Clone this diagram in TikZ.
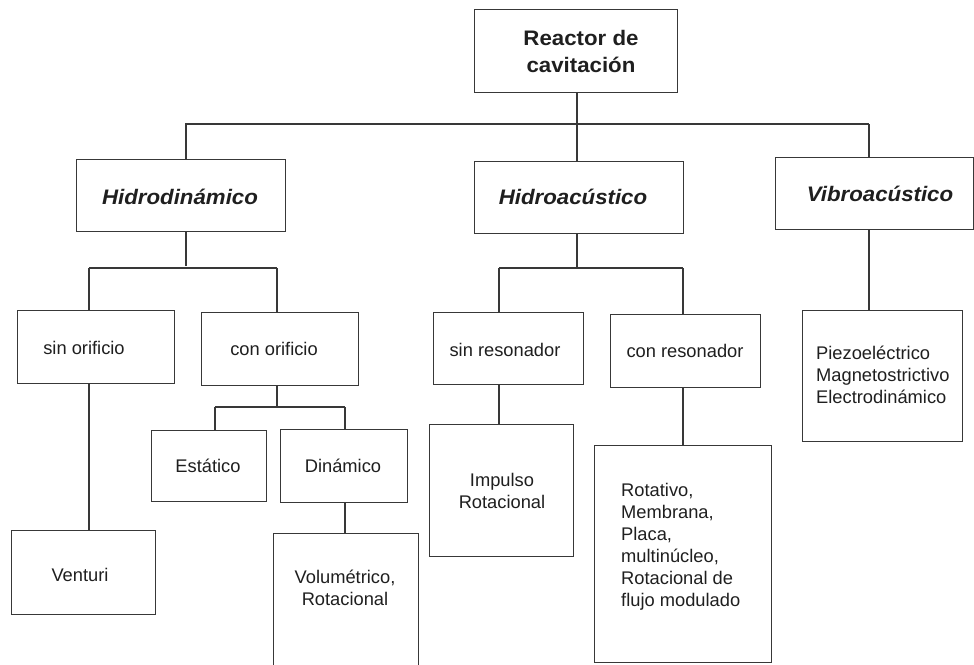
\documentclass[tikz,border=0pt]{standalone}
\usepackage{fontspec}
\setmainfont{Liberation Sans}
\newfontfamily\headfont[FakeStretch=1.06]{Liberation Sans}
\begin{document}
\begin{tikzpicture}[x=1pt,y=-1pt,
  box/.style={draw=black!78, line width=1.1pt, rectangle, inner sep=0pt, anchor=north west},
  link/.style={draw=black!78, line width=1.1pt},
  lbl/.style={text=black!88, font=\fontsize{18.3}{22}\selectfont, inner sep=0pt},
  head/.style={text=black!88, font=\headfont\fontsize{21}{27}\selectfont\bfseries\itshape, inner sep=0pt},
  root/.style={text=black!88, font=\headfont\fontsize{21}{27}\selectfont\bfseries, inner sep=0pt, align=center}]
\clip (0,0) rectangle (974,664);
\fill[white] (0,0) rectangle (974,664);

% boxes: top-left corner plus size
\node[box, minimum width=203pt, minimum height=83pt] (reactor)  at (474,9)   {};
\node[box, minimum width=209pt, minimum height=72pt] (hidrodin) at (76,159)  {};
\node[box, minimum width=209pt, minimum height=72pt] (hidroac)  at (474,161) {};
\node[box, minimum width=198pt, minimum height=72pt] (vibro)    at (775,157) {};
\node[box, minimum width=157pt, minimum height=73pt] (sinorif)  at (17,310)  {};
\node[box, minimum width=157pt, minimum height=73pt] (conorif)  at (201,312) {};
\node[box, minimum width=115pt, minimum height=71pt] (estatico) at (151,430) {};
\node[box, minimum width=127pt, minimum height=73pt] (dinamico) at (280,429) {};
\node[box, minimum width=144pt, minimum height=84pt] (venturi)  at (11,530)  {};
\node[box, minimum width=145pt, minimum height=150pt] (volum)   at (273,533) {};
\node[box, minimum width=150pt, minimum height=72pt] (sinreson) at (433,312) {};
\node[box, minimum width=150pt, minimum height=73pt] (conreson) at (610,314) {};
\node[box, minimum width=144pt, minimum height=132pt] (impulso) at (429,424) {};
\node[box, minimum width=177pt, minimum height=217pt] (rotativo) at (594,445) {};
\node[box, minimum width=160pt, minimum height=131pt] (piezo)   at (802,310) {};

% labels
\node[root] (reactor-t) at (581,51.5) {Reactor de\\cavitación};
\node[head] (hidrodin-t) at (180,197) {Hidrodinámico};
\node[head] (hidroac-t)  at (573,197) {Hidroacústico};
\node[head] (vibro-t)    at (880,194) {Vibroacústico};
\node[lbl] (sinorif-t)  at (84,348)  {sin orificio};
\node[lbl] (conorif-t)  at (274,349) {con orificio};
\node[lbl] (estatico-t) at (208,466) {Estático};
\node[lbl] (dinamico-t) at (343,466) {Dinámico};
\node[lbl] (venturi-t)  at (80,575)  {Venturi};
\node[lbl, align=center] (volum-t) at (345,588) {Volumétrico,\\Rotacional};
\node[lbl] (sinreson-t) at (505,350) {sin resonador};
\node[lbl] (conreson-t) at (685,351) {con resonador};
\node[lbl, align=center] (impulso-t) at (502,491) {Impulso\\Rotacional};
\node[lbl, align=left, anchor=west] (rotativo-t) at (621,547)
  {Rotativo,\\Membrana,\\Placa,\\multinúcleo,\\Rotacional de\\flujo modulado};
\node[lbl, align=left, anchor=west] (piezo-t) at (816,374.5)
  {Piezoeléctrico\\Magnetostrictivo\\Electrodinámico};

% junction points of the bus lines
\coordinate (busA)  at (577,124);
\coordinate (busAl) at (185,124);
\coordinate (busAr) at (869,124);
\coordinate (busB)  at (186,268);
\coordinate (busBl) at (89,268);
\coordinate (busBr) at (277,268);
\coordinate (busC)  at (277,407);
\coordinate (busCl) at (215,407);
\coordinate (busCr) at (345,407);
\coordinate (busD)  at (577,268);
\coordinate (busDl) at (499,268);
\coordinate (busDr) at (683,268);

% first level
\draw[link] (reactor.south -| busA) -- (hidroac.north -| busA);
\draw[link] (busAl) -- (busAr);
\draw[link] (busAl -| busB) -- (hidrodin.north -| busB);
\draw[link] (busAr) -- (vibro.north -| busAr);

% hydrodynamic branch
\draw[link] (hidrodin.south -| busB) -- ([yshift=2pt]busB);
\draw[link] (busBl) -- (busBr);
\draw[link] (busBl) -- (sinorif.north -| busBl);
\draw[link] (busBr) -- (conorif.north -| busBr);
\draw[link] (sinorif.south -| busBl) -- (venturi.north -| busBl);
\draw[link] (conorif.south -| busC) -- (busC);
\draw[link] (busCl) -- (busCr);
\draw[link] (busCl) -- (estatico.north -| busCl);
\draw[link] (busCr) -- (dinamico.north -| busCr);
\draw[link] (dinamico.south -| busCr) -- (volum.north -| busCr);

% hydroacoustic branch
\draw[link] (hidroac.south -| busD) -- (busD);
\draw[link] (busDl) -- (busDr);
\draw[link] (busDl) -- (sinreson.north -| busDl);
\draw[link] (busDr) -- (conreson.north -| busDr);
\draw[link] (sinreson.south -| busDl) -- (impulso.north -| busDl);
\draw[link] (conreson.south -| busDr) -- (rotativo.north -| busDr);

% vibroacoustic branch
\draw[link] (vibro.south -| busAr) -- (piezo.north -| busAr);
\end{tikzpicture}
\end{document}
